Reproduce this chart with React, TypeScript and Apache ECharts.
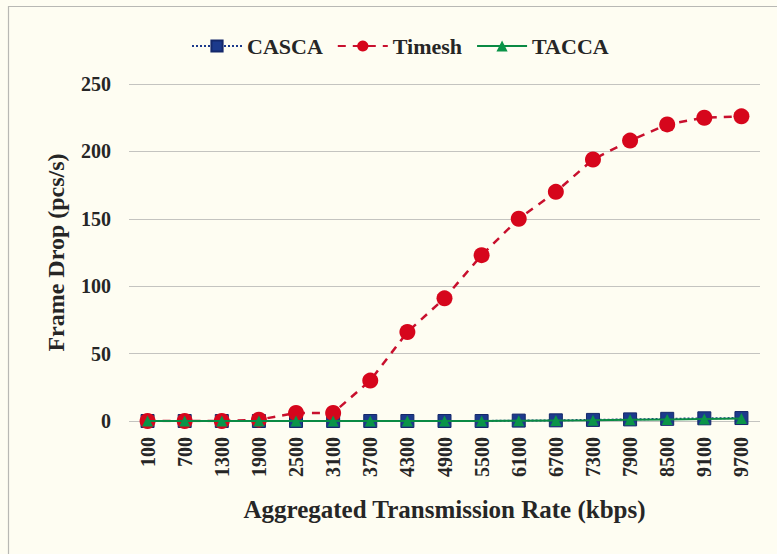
import React, { useEffect, useRef } from "react";
import * as echarts from "echarts";

const rates = ["100", "700", "1300", "1900", "2500", "3100", "3700", "4300", "4900", "5500", "6100", "6700", "7300", "7900", "8500", "9100", "9700"];
const casca = [0, 0, 0, 0, 0, 0, 0, 0, 0, 0, 0.3, 0.5, 0.8, 1.2, 1.6, 2, 2.2];
const timesh = [0, 0, 0, 1, 6, 6, 30, 66, 91, 123, 150, 170, 194, 208, 220, 225, 226];
const tacca = [0, 0, 0, 0, 0, 0, 0, 0, 0, 0, 0.2, 0.4, 0.6, 0.9, 1.2, 1.5, 1.8];
const yTicks = [0, 50, 100, 150, 200, 250];

const serif = "'Liberation Serif', 'DejaVu Serif', serif";
const ink = "#262626";

export default function App() {
  const ref = useRef<HTMLDivElement>(null);

  useEffect(() => {
    document.body.style.margin = "0";
    document.body.style.background = "#fefdf2";
    if (!ref.current) return;
    const chart = echarts.init(ref.current, undefined, { renderer: "svg" });
    chart.setOption({
      animation: false,
      backgroundColor: "#fefdf2",
      graphic: [
        {
          type: "rect",
          shape: { x: 8.5, y: 6.5, width: 800, height: 600 },
          style: { fill: "none", stroke: "#b8b8b4", lineWidth: 1.2 },
          silent: true,
        },
      ],
      legend: {
        top: 30,
        left: 186,
        itemWidth: 50,
        itemHeight: 14,
        itemGap: 14,
        textStyle: { fontFamily: serif, fontWeight: "bold", fontSize: 22, color: ink },
        data: ["CASCA", "Timesh", "TACCA"],
      },
      grid: { left: 129, right: 17, top: 84, bottom: 133, containLabel: false },
      xAxis: {
        type: "category",
        data: rates,
        boundaryGap: true,
        axisLine: { show: false },
        axisTick: { show: false },
        axisLabel: {
          rotate: 90,
          margin: 16,
          fontFamily: serif,
          fontWeight: "bold",
          fontSize: 20,
          color: ink,
        },
        name: "Aggregated Transmission Rate (kbps)",
        nameLocation: "middle",
        nameGap: 76,
        nameTextStyle: { fontFamily: serif, fontWeight: "bold", fontSize: 25, color: ink },
      },
      yAxis: {
        type: "value",
        min: yTicks[0],
        max: yTicks[yTicks.length - 1],
        interval: 50,
        axisLine: { show: false },
        axisTick: { show: false },
        splitLine: { lineStyle: { color: "#c4c4c0", width: 1.2 } },
        axisLabel: {
          margin: 18,
          fontFamily: serif,
          fontWeight: "bold",
          fontSize: 20,
          color: ink,
        },
        name: "Frame Drop (pcs/s)",
        nameLocation: "middle",
        nameGap: 61,
        nameTextStyle: { fontFamily: serif, fontWeight: "bold", fontSize: 24, color: ink },
      },
      series: [
        {
          name: "CASCA",
          type: "line",
          data: casca,
          symbol: "rect",
          symbolSize: 13,
          itemStyle: { color: "#1c3a8c", borderColor: "#14286a", borderWidth: 1 },
          lineStyle: { color: "#1c3a8c", width: 2, type: "dotted" },
          z: 2,
        },
        {
          name: "Timesh",
          type: "line",
          data: timesh,
          symbol: "circle",
          symbolSize: 16,
          itemStyle: { color: "#d6061c" },
          lineStyle: { color: "#c8102e", width: 2.5, type: [8, 7] },
          z: 3,
        },
        {
          name: "TACCA",
          type: "line",
          data: tacca,
          symbol: "triangle",
          symbolSize: 11,
          itemStyle: { color: "#0a9448" },
          lineStyle: { color: "#0a8a44", width: 2 },
          z: 4,
        },
      ],
    });
    return () => chart.dispose();
  }, []);

  return <div ref={ref} style={{ width: 777, height: 554 }} />;
}
